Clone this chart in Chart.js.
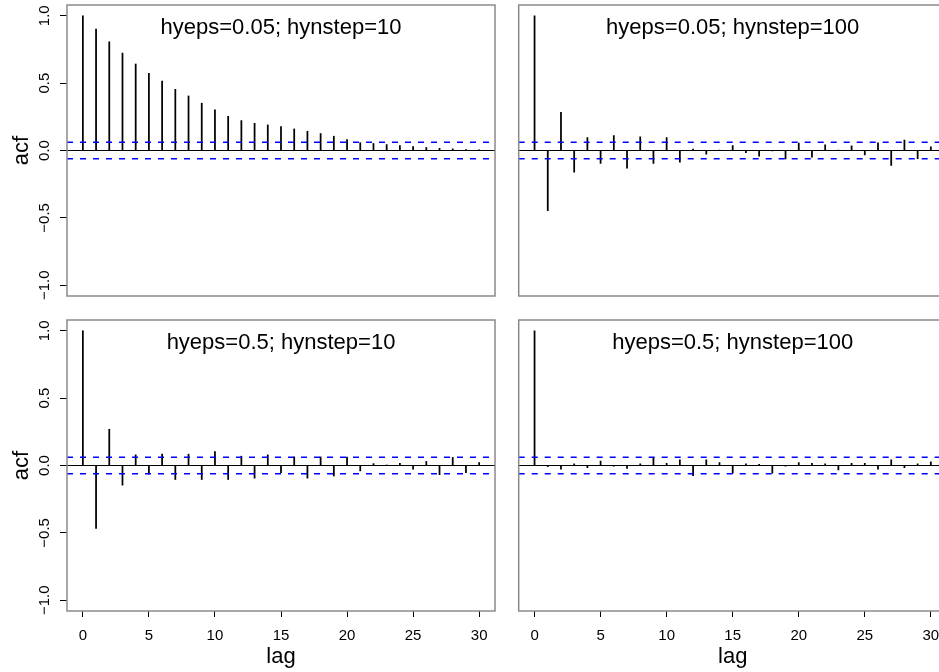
<!DOCTYPE html>
<html>
<head>
<meta charset="utf-8">
<script src="https://cdn.jsdelivr.net/npm/chart.js@4.4.1/dist/chart.umd.min.js"></script>
<style>
  html, body { margin: 0; padding: 0; background: #fff; }
  #wrap { position: relative; width: 939px; height: 672px; overflow: hidden; }
  canvas { position: absolute; }
</style>
</head>
<body>
<div id="wrap">
  <canvas id="c1" width="500" height="310" style="left:0;top:0"></canvas>
  <canvas id="c2" width="460" height="310" style="left:500px;top:0"></canvas>
  <canvas id="c3" width="500" height="362" style="left:0;top:310px"></canvas>
  <canvas id="c4" width="460" height="362" style="left:500px;top:310px"></canvas>
</div>
<script>
const lags = [0,1,2,3,4,5,6,7,8,9,10,11,12,13,14,15,16,17,18,19,20,21,22,23,24,25,26,27,28,29,30];

// hyeps=0.05; hynstep=10
const acf1 = [1.0,0.901,0.807,0.723,0.642,0.573,0.516,0.454,0.405,0.351,0.301,0.254,0.222,0.202,0.190,0.178,0.160,0.143,0.126,0.106,0.081,0.058,0.052,0.044,0.037,0.030,0.022,0.016,0.012,0.007,0.005];
// hyeps=0.05; hynstep=100
const acf2 = [1.0,-0.447,0.284,-0.160,0.096,-0.096,0.111,-0.131,0.101,-0.096,0.096,-0.086,0.011,-0.027,0.003,0.037,-0.016,-0.042,-0.003,-0.062,0.055,-0.050,0.042,0.004,0.035,-0.032,0.057,-0.111,0.077,-0.060,0.027];
// hyeps=0.5; hynstep=10
const acf3 = [1.0,-0.467,0.269,-0.146,0.079,-0.064,0.084,-0.104,0.084,-0.104,0.104,-0.104,0.069,-0.094,0.079,-0.054,0.064,-0.094,0.064,-0.078,0.062,-0.040,0.014,0.004,0.017,-0.028,0.030,-0.068,0.060,-0.053,0.022];
// hyeps=0.5; hynstep=100
const acf4 = [1.0,-0.008,-0.028,0.012,-0.017,0.032,-0.005,-0.022,0.012,0.057,0.017,0.042,-0.076,0.042,0.022,-0.057,0.012,0.008,-0.057,-0.005,0.022,0.017,0.012,-0.032,0.017,0.017,-0.027,0.042,-0.017,0.012,0.027];

const ci = 0.062;
const xTicks = [0,5,10,15,20,25,30];
const yTicks = [-1,-0.5,0,0.5,1];
const yTickLabels = ['\u22121.0','\u22120.5','0.0','0.5','1.0'];

const FONT = '"Liberation Sans", Arial, Helvetica, sans-serif';

const acfPlot = {
  id: 'acfPlot',
  afterDatasetsDraw(chart, args, opts) {
    const {ctx, chartArea: a} = chart;
    const y = chart.scales.y;
    ctx.save();
    // zero line
    const y0 = y.getPixelForValue(0);
    ctx.strokeStyle = '#000';
    ctx.lineWidth = 1.2;
    ctx.beginPath(); ctx.moveTo(a.left, y0); ctx.lineTo(a.right, y0); ctx.stroke();
    // confidence bounds
    ctx.strokeStyle = '#0000ff';
    ctx.lineWidth = 1.5;
    ctx.setLineDash([6, 7]);
    [ci, -ci].forEach(v => {
      const py = y.getPixelForValue(v);
      ctx.beginPath(); ctx.moveTo(a.left, py); ctx.lineTo(a.right, py); ctx.stroke();
    });
    ctx.setLineDash([]);
    // box
    ctx.strokeStyle = '#8a8a8a';
    ctx.lineWidth = 1.5;
    ctx.strokeRect(a.left, a.top, a.right - a.left, a.bottom - a.top);
    // panel title
    ctx.fillStyle = '#000';
    ctx.font = '22px ' + FONT;
    ctx.textAlign = 'center';
    ctx.textBaseline = 'middle';
    ctx.fillText(opts.title, (a.left + a.right) / 2, a.top + 23);
    // y tick labels, parallel to the axis
    if (opts.yLabels) {
      ctx.font = '15px ' + FONT;
      y.ticks.forEach(t => {
        ctx.save();
        ctx.translate(45, y.getPixelForValue(t.value));
        ctx.rotate(-Math.PI / 2);
        ctx.fillText(t.label, 0, 0);
        ctx.restore();
      });
    }
    ctx.restore();
  }
};

function makePanel(id, vals, title, showY, showX, pad) {
  new Chart(document.getElementById(id), {
    type: 'bar',
    data: {
      datasets: [{
        data: lags.map((l, i) => ({x: l, y: vals[i]})),
        backgroundColor: '#000',
        borderWidth: 0,
        barThickness: 1.1
      }]
    },
    options: {
      responsive: false,
      animation: false,
      layout: { padding: pad },
      plugins: {
        legend: { display: false },
        tooltip: { enabled: false },
        acfPlot: { title: title, yLabels: showY }
      },
      scales: {
        x: {
          type: 'linear',
          min: -1.2, max: 31.2,
          offset: false,
          display: showX,
          afterBuildTicks: s => { s.ticks = xTicks.map(v => ({value: v})); },
          afterFit: s => { if (showX) s.height = 61; },
          grid: { offset: false, drawOnChartArea: false, drawTicks: true, tickLength: 6, color: '#000', lineWidth: 1 },
          border: { display: false },
          ticks: { padding: 10, color: '#000', font: { family: FONT, size: 15 }, maxRotation: 0 },
          title: { display: true, text: 'lag', color: '#000', font: { family: FONT, size: 22, lineHeight: 1 }, padding: { top: 0, bottom: 4 } }
        },
        y: {
          min: -1.08, max: 1.08,
          display: showY,
          afterBuildTicks: s => { s.ticks = yTicks.map(v => ({value: v})); },
          afterFit: s => { if (showY) s.width = 67; },
          grid: { drawOnChartArea: false, drawTicks: true, tickLength: 7, color: '#000', lineWidth: 1 },
          border: { display: false },
          ticks: { display: false, callback: v => yTickLabels[yTicks.indexOf(v)] },
          title: { display: true, text: 'acf', color: '#000', font: { family: FONT, size: 22, lineHeight: 1 }, padding: { top: 11, bottom: 0 } }
        }
      }
    },
    plugins: [acfPlot]
  });
}

makePanel('c1', acf1, 'hyeps=0.05; hynstep=10', true, false, {left: 0, top: 5, right: 5, bottom: 14});
makePanel('c2', acf2, 'hyeps=0.05; hynstep=100', false, false, {left: 18.7, top: 5, right: 13.3, bottom: 14});
makePanel('c3', acf3, 'hyeps=0.5; hynstep=10', true, true, {left: 0, top: 10, right: 5, bottom: 0});
makePanel('c4', acf4, 'hyeps=0.5; hynstep=100', false, true, {left: 18.7, top: 10, right: 13.3, bottom: 0});
</script>
</body>
</html>
